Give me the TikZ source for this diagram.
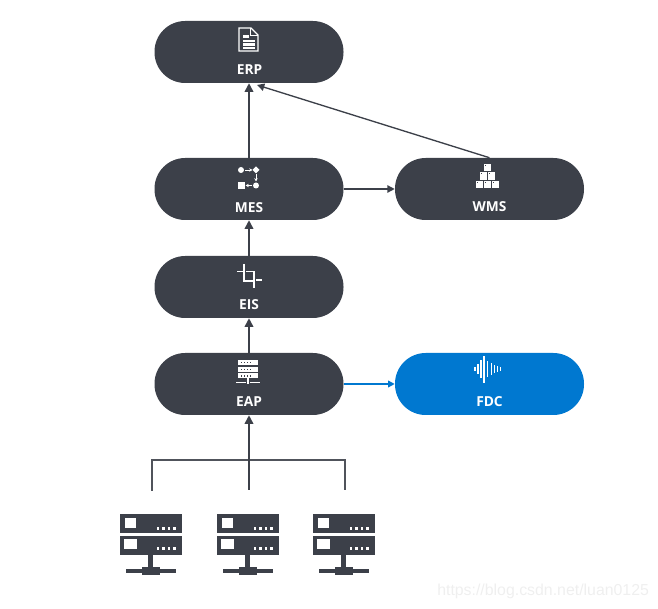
\documentclass[tikz,border=0pt]{standalone}
\usepackage{fontspec}
\setmainfont{Open Sans}
\newfontfamily\wmfont{Liberation Sans}
\usetikzlibrary{arrows.meta}
\definecolor{pilldark}{HTML}{3C4049}
\definecolor{pillblue}{HTML}{0078D0}
\definecolor{wmgray}{HTML}{EFEFEF}
\tikzset{
  x=0.75pt,y=-0.75pt,
  pill/.style={rectangle,rounded corners=23pt,minimum width=141.75pt,minimum height=46.5pt,inner sep=0pt,fill=#1},
  pilltext/.style={text=white,font=\bfseries\fontsize{10.3pt}{11pt}\selectfont,inner sep=0pt},
  link/.style={draw=pilldark,line width=1.1pt,-{Triangle[length=6.5pt,width=6.5pt]}},
  thinlink/.style={draw=pilldark,line width=1pt,-{Triangle[length=5.5pt,width=5.5pt]}},
  bluelink/.style={draw=pillblue,line width=1.1pt,-{Triangle[length=5pt,width=5pt]}},
  bus/.style={draw=pilldark!90!white,line width=0.8pt},
  iconline/.style={draw=white,line width=0.9pt},
  serverpic/.pic={
    \fill[pilldark] (0,0) rectangle (62,19);
    \fill[pilldark] (0,22) rectangle (62,41);
    \fill[white] (5,4) rectangle (16,14);
    \fill[white] (4,25) rectangle (17,35);
    \foreach \dx in {36.5,42,47.5,53}{
      \fill[white] (\dx,13) rectangle +(2.6,2.6);
      \fill[white] (\dx,33.5) rectangle +(2.6,2.6);
    }
    \fill[pilldark] (28,41) rectangle (33,55);
    \fill[pilldark] (6,55) rectangle (56,59);
    \fill[pilldark] (22,53) rectangle (40,61);
  },
}
\begin{document}
\begin{tikzpicture}
\useasboundingbox (0,0) rectangle (658,609);
% pills
\node[pill=pilldark] (erp) at (249,52) {};
\node[pill=pilldark] (mes) at (249,189) {};
\node[pill=pilldark] (eis) at (249,287) {};
\node[pill=pilldark] (eap) at (249,384) {};
\node[pill=pilldark] (wms) at (489.5,189) {};
\node[pill=pillblue] (fdc) at (489.5,384) {};
% labels
\node[pilltext] (erpt) at (249.5,69.5) {ERP};
\node[pilltext] (mest) at (249,207.5) {MES};
\node[pilltext] (eist) at (249,304.5) {EIS};
\node[pilltext] (eapt) at (249,401.5) {EAP};
\node[pilltext] (wmst) at (489.5,206.5) {WMS};
\node[pilltext] (fdct) at (489.5,401.5) {FDC};
% connectors
\coordinate (wmsin) at (257,85);
\draw[link] (mes.north) -- (erp.south);
\draw[thinlink] (wms.north) -- (wmsin);
\draw[thinlink] (mes.east) -- (wms.west);
\draw[link] (eis.north) -- (mes.south);
\draw[link] (eap.north) -- (eis.south);
\draw[bluelink] (eap.east) -- (fdc.west);
\coordinate (s1top) at (152,491);
\coordinate (s2top) at (249,490);
\coordinate (s3top) at (345,490);
\coordinate (busl) at (152,460);
\coordinate (busr) at (345,460);
\draw[bus] (s1top) -- (busl) -- (busr) -- (s3top);
\draw[link] (s2top) -- (eap.south);
% servers
\pic at (120,514) {serverpic};
\pic at (217,514) {serverpic};
\pic at (313,514) {serverpic};
% ERP icon
\draw[iconline] (239,28) -- (251,28) -- (258,35) -- (258,51) -- (239,51) -- cycle;
\draw[iconline,line width=0.7pt] (250.5,28) -- (250.5,35.5) -- (258,35.5);
\fill[white] (243,35.5) rectangle (249,38.5);
\fill[white] (243,40) rectangle (255,42.5);
\fill[white] (243,43.5) rectangle (255,45.8);
\fill[white] (243,47) rectangle (255,49);
% MES icon
\fill[white] (241,170) circle[radius=3];
\draw[iconline,line width=0.7pt,-{Stealth[length=2.5pt,width=2.5pt]}] (245,170) -- (252.5,170);
\fill[white] (256,166.5) -- (259.5,170) -- (256,173.5) -- (252.5,170) -- cycle;
\draw[iconline,line width=0.7pt,-{Stealth[length=2.5pt,width=2.5pt]}] (256,174) -- (256,181.5);
\fill[white] (256,185.5) circle[radius=3];
\draw[iconline,line width=0.7pt,-{Stealth[length=2.5pt,width=2.5pt]}] (252,185.5) -- (245.5,185.5);
\fill[white] (238,182) rectangle (245,189);
% EIS icon
\draw[iconline] (237,271.3) -- (242.5,271.3);
\draw[iconline] (244,264) -- (244,281) -- (252.5,281);
\draw[iconline] (246,271.3) -- (254,271.3) -- (254,288);
\draw[iconline] (256,280) -- (262,280);
% EAP icon
\fill[white] (238,360) rectangle (258,365);
\fill[white] (238,367) rectangle (258,372);
\fill[white] (238,373.5) rectangle (258,378.5);
\foreach \yy in {362,369,375.5}{
  \foreach \xx in {241,244,247,250}{
    \fill[pilldark] (\xx,\yy) rectangle +(1.2,1.2);
  }
}
\fill[white] (247,378.5) rectangle (249,384);
\fill[white] (236,382) rectangle (246,383.5);
\fill[white] (250,382) rectangle (260,383.5);
% WMS icon
\foreach \bx/\by in {484/164,480/172.5,488/172.5,476/181,484/181,492/181}{
  \fill[white] (\bx,\by) rectangle +(7.3,7.3);
  \fill[pilldark] (\bx+1,\by+1) rectangle +(1,1);
}
% FDC icon
\foreach \bx/\bh in {475/4,477.7/10,480.7/18,484/27,487.6/16,491.4/12,494.6/8,497.6/6,500.4/4}{
  \fill[white] (\bx-0.85,369.5-\bh/2) rectangle (\bx+0.85,369.5+\bh/2);
}
% watermark
\node[text=wmgray,font=\wmfont\fontsize{11.9pt}{14pt}\selectfont,inner sep=0pt,anchor=west] (wm) at (437,591) {https://blog.csdn.net/luan0125};
\end{tikzpicture}
\end{document}
